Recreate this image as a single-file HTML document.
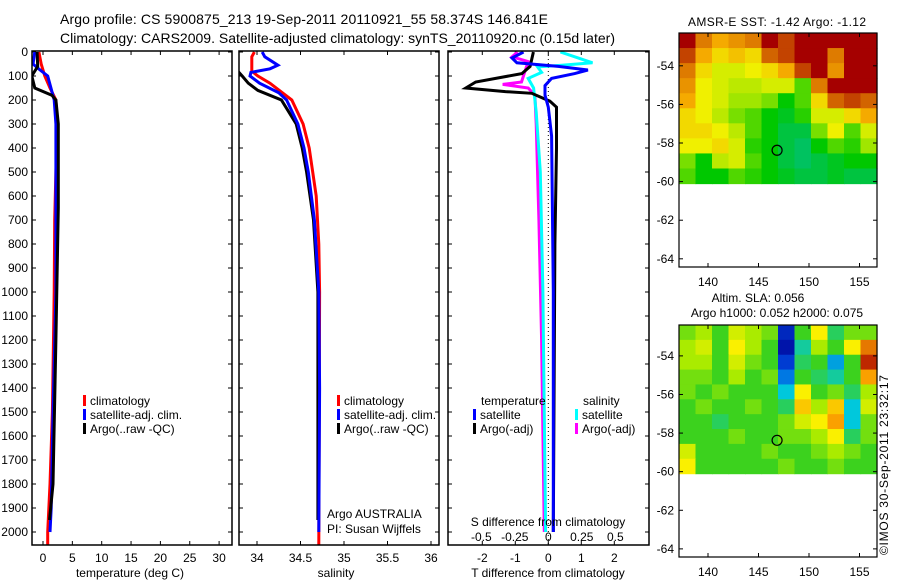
<!DOCTYPE html>
<html><head><meta charset="utf-8">
<style>
html,body{margin:0;padding:0;background:#fff;}
svg{display:block;font-family:"Liberation Sans",sans-serif;}
text{font-size:12px;fill:#000;}
</style></head>
<body>
<svg id="fig" width="900" height="580" viewBox="0 0 900 580" xmlns="http://www.w3.org/2000/svg">
<text x="60" y="24" textLength="488" style="font-size:14px">Argo profile: CS 5900875_213 19-Sep-2011 20110921_55 58.374S 146.841E</text>
<text x="60" y="43" textLength="555" style="font-size:14px">Climatology: CARS2009. Satellite-adjusted climatology: synTS_20110920.nc (0.15d later)</text>
<text x="777" y="26" text-anchor="middle" textLength="178">AMSR-E SST: -1.42 Argo: -1.12</text>
<text x="758" y="302" text-anchor="middle">Altim. SLA: 0.056</text>
<text x="777" y="317" text-anchor="middle">Argo h1000: 0.052 h2000: 0.075</text>
<text transform="translate(888,555) rotate(-90)" textLength="180">©IMOS 30-Sep-2011 23:32:17</text>
<g id="g"></g>
</svg>
<script>
// ---------- DATA ----------
const depthTicks=[0,100,200,300,400,500,600,700,800,900,1000,1100,1200,1300,1400,1500,1600,1700,1800,1900,2000];
const tempTicks=[0,5,10,15,20,25,30];
const salTicks=[34,34.5,35,35.5,36];
const salTickLabels=["34","34.5","35","35.5","36"];
const tdiffTicks=[-2,-1,0,1,2];
const sdiffTicks=[-0.5,-0.25,0,0.25,0.5];
const sdiffTickLabels=["-0.5","-0.25","0","0.25","0.5"];
const latTicks=[-54,-56,-58,-60,-62,-64];
const lonTicks=[140,145,150,155];

const tClimDepth=[0,50,100,150,200,300,700,1000,1500,1800,2000,2055];
const tClimVal=[-0.7,-0.3,0.3,1.2,2.2,2.4,2.0,1.9,1.6,1.2,0.8,0.8];
const tSatDepth=[0,50,75,100,200,300,1000,1500,1900,2000];
const tSatVal=[-1.4,-1.7,-0.5,0.8,1.9,2.2,2.2,1.7,1.4,1.2];
const tArgoDepth=[0,60,100,150,180,200,300,650,1200,1800,1950];
const tArgoVal=[-1.0,-0.9,-1.9,-1.4,1.5,2.2,2.6,2.6,2.2,1.7,1.1];

const sClimDepth=[0,20,80,100,130,200,300,400,500,600,800,1000,2055];
const sClimVal=[33.97,33.94,33.94,34.01,34.15,34.4,34.53,34.6,34.64,34.68,34.71,34.72,34.71];
const sSatDepth=[0,20,55,70,85,100,130,170,200,300,400,500,700,1000,1400,2000];
const sSatVal=[34.06,34.09,34.24,34.15,33.93,33.92,34.03,34.25,34.34,34.47,34.54,34.59,34.66,34.71,34.72,34.71];
const sArgoDepth=[0,80,100,130,160,200,300,400,500,700,1000,1500,1950];
const sArgoVal=[33.7,33.78,33.83,33.9,34.01,34.28,34.45,34.52,34.57,34.65,34.7,34.7,34.7];

const dTSatDepth=[0,25,45,60,75,90,110,140,180,230,350,1000,2000];
const dTSatVal=[-0.75,-1.1,-0.95,0.3,1.2,0.8,0.1,-0.1,-0.1,0.0,0.1,0.15,0.15];
const dTArgoDepth=[0,60,90,125,150,165,172,190,205,230,400,800,2000];
const dTArgoVal=[-0.45,-0.55,-0.8,-2.2,-2.5,-1.3,-0.5,-0.2,0.05,0.25,0.25,0.2,0.15];
const dSSatDepth=[0,30,45,55,62,85,110,150,250,500,1000,2000];
const dSSatVal=[0.09,0.25,0.33,0.1,-0.08,-0.05,-0.15,-0.11,-0.09,-0.06,-0.04,-0.02];
const dSArgoDepth=[0,20,40,90,125,135,150,180,300,700,1200,2000];
const dSArgoVal=[-0.23,-0.27,-0.15,-0.18,-0.2,-0.34,-0.15,-0.1,-0.09,-0.07,-0.05,-0.03];

const sstGrid=[
[1,0.8,0.7,0.75,0.8,1,0.9,1,1,1,1,1],
[0.9,0.7,0.6,0.65,0.6,0.85,0.9,1,1,0.8,1,1],
[0.8,0.6,0.5,0.5,0.55,0.6,0.7,0.9,1,0.75,1,1],
[0.75,0.55,0.5,0.45,0.45,0.5,0.5,0.3,0.8,1,1,1],
[0.7,0.55,0.5,0.4,0.4,0.35,0.2,0.3,0.6,0.85,0.9,0.85],
[0.6,0.55,0.45,0.35,0.3,0.2,0.15,0.25,0.5,0.5,0.6,0.7],
[0.6,0.6,0.55,0.45,0.3,0.2,0.1,0.1,0.35,0.55,0.3,0.5],
[0.55,0.55,0.6,0.5,0.25,0.2,0.1,0.05,0.2,0.3,0.25,0.4],
[0.35,0.2,0.45,0.5,0.3,0.2,0.1,0.05,0.1,0.15,0.2,0.2],
[0.3,0.2,0.2,0.3,0.25,0.2,0.15,0.1,0.1,0.15,0.1,0.1]];
const slaGrid=[
[0.55,0.6,0.5,0.65,0.6,0.55,0.1,0.5,0.7,0.45,0.55,0.55],
[0.6,0.65,0.5,0.7,0.6,0.5,0.05,0.4,0.6,0.5,0.7,0.85],
[0.6,0.6,0.5,0.65,0.55,0.5,0.15,0.45,0.5,0.3,0.5,0.95],
[0.55,0.55,0.5,0.6,0.5,0.55,0.25,0.5,0.45,0.4,0.5,0.8],
[0.55,0.5,0.55,0.5,0.5,0.5,0.35,0.7,0.5,0.55,0.45,0.6],
[0.5,0.55,0.5,0.5,0.55,0.5,0.45,0.75,0.6,0.75,0.35,0.65],
[0.5,0.5,0.45,0.5,0.5,0.5,0.55,0.65,0.7,0.8,0.35,0.55],
[0.5,0.5,0.5,0.55,0.5,0.5,0.55,0.55,0.6,0.7,0.45,0.55],
[0.65,0.5,0.5,0.5,0.5,0.55,0.5,0.5,0.55,0.6,0.55,0.5],
[0.7,0.5,0.5,0.5,0.5,0.5,0.55,0.5,0.5,0.55,0.5,0.5]];
const floatLon=146.84, floatLat=-58.374;

// ---------- HELPERS ----------
const NS="http://www.w3.org/2000/svg";
const G=document.getElementById('g');
function mk(tag,attrs,parent){const e=document.createElementNS(NS,tag);for(const k in attrs)e.setAttribute(k,attrs[k]);(parent||G).appendChild(e);return e;}
function txt(x,y,s,anchor,name){const t=mk('text',{x:x,y:y,'text-anchor':anchor||'start'});t.textContent=s;


return t;}
const TOP=51,BOT=545;
const yD=d=>52+d*0.24;
function panel(L,R,name){const r=mk('rect',{x:L,y:TOP,width:R-L,height:BOT-TOP,fill:'none',stroke:'#000','stroke-width':1.5});


}
function clip(id,L,R){const c=mk('clipPath',{id:id});mk('rect',{x:L,y:TOP,width:R-L,height:BOT-TOP},c);}
function line(depths,vals,xf,color,cid,name){let d='';depths.forEach((dp,i)=>{d+=(i?'L':'M')+xf(vals[i]).toFixed(1)+','+yD(dp).toFixed(1);});
const p=mk('path',{d:d,fill:'none',stroke:color,'stroke-width':3,'clip-path':'url(#'+cid+')'});


}
function depthAxis(L,R,labels){depthTicks.forEach(t=>{const y=yD(t);mk('line',{x1:L,x2:L+4,y1:y,y2:y,stroke:'#000'});mk('line',{x1:R,x2:R-4,y1:y,y2:y,stroke:'#000'});
if(labels){txt(L-4,y+4,String(t),'end','depth-tick-label');}});}
function xTicks(vals,labs,xf,L,R,ly){vals.forEach((v,i)=>{const x=xf(v);mk('line',{x1:x,x2:x,y1:TOP,y2:TOP+4,stroke:'#000'});mk('line',{x1:x,x2:x,y1:BOT,y2:BOT-4,stroke:'#000'});
if(ly)txt(x,ly,labs[i],'middle','x-tick-label');});}
function legendBar(x,y,color,label,name){mk('rect',{x:x,y:y-10,width:3,height:11,fill:color});txt(x+7,y,label,'start',name);}

// ---------- PANEL 1: temperature ----------
const xT=v=>43+v*5.87;
clip('c1',32,232);
depthAxis(32,232,true);
xTicks(tempTicks,tempTicks.map(String),xT,32,232,562);
line(tClimDepth,tClimVal,xT,'#f00','c1','temp-climatology-line');
line(tSatDepth,tSatVal,xT,'#00f','c1','temp-satellite-line');
line(tArgoDepth,tArgoVal,xT,'#000','c1','temp-argo-line');
panel(32,232,'temperature-panel');
txt(130,577,'temperature (deg C)','middle','temperature-axis-title');
legendBar(83,405,'#f00','climatology','legend-climatology');
legendBar(83,419,'#00f','satellite-adj. clim.','legend-satellite');
legendBar(83,433,'#000','Argo(..raw -QC)','legend-argo');

// ---------- PANEL 2: salinity ----------
const xS=v=>257+(v-34)*87;
clip('c2',239,439);
depthAxis(239,439,false);
xTicks(salTicks,salTickLabels,xS,239,439,562);
line(sClimDepth,sClimVal,xS,'#f00','c2','sal-climatology-line');
line(sArgoDepth,sArgoVal,xS,'#000','c2','sal-argo-line');
line(sSatDepth,sSatVal,xS,'#00f','c2','sal-satellite-line');
panel(239,439,'salinity-panel');
txt(336,577,'salinity','middle','salinity-axis-title');
legendBar(337,405,'#f00','climatology','legend-climatology-2');
legendBar(337,419,'#00f','satellite-adj. clim.','legend-satellite-2');
legendBar(337,433,'#000','Argo(..raw -QC)','legend-argo-2');
txt(327,518,'Argo AUSTRALIA','start','argo-australia-label');
txt(327,533,'PI: Susan Wijffels','start','pi-label');

// ---------- PANEL 3: differences ----------
const xDT=v=>548.3+v*33;
const xDS=v=>548.3+v*134;
clip('c3',448,649);
depthAxis(448,649,false);
xTicks(tdiffTicks,tdiffTicks.map(String),xDT,448,649,562);
mk('line',{x1:xDT(0),x2:xDT(0),y1:TOP,y2:BOT,stroke:'#000','stroke-dasharray':'1,3'});
line(dSArgoDepth,dSArgoVal,xDS,'#f0f','c3','sdiff-argo-line');
line(dSSatDepth,dSSatVal,xDS,'#0ff','c3','sdiff-satellite-line');
line(dTArgoDepth,dTArgoVal,xDT,'#000','c3','tdiff-argo-line');
line(dTSatDepth,dTSatVal,xDT,'#00f','c3','tdiff-satellite-line');
panel(448,649,'difference-panel');
sdiffTicks.forEach((v,i)=>{txt(xDS(v),541,sdiffTickLabels[i],'middle','sdiff-tick-label');});
txt(548,526,'S difference from climatology','middle','sdiff-axis-title');
txt(548,577,'T difference from climatology','middle','tdiff-axis-title');
txt(481,405,'temperature','start','legend-temperature-heading');
legendBar(473,419,'#00f','satellite','legend-tdiff-satellite');
legendBar(473,433,'#000','Argo(-adj)','legend-tdiff-argo');
txt(583,405,'salinity','start','legend-salinity-heading');
legendBar(575,419,'#0ff','satellite','legend-sdiff-satellite');
legendBar(575,433,'#f0f','Argo(-adj)','legend-sdiff-argo');

// ---------- MAPS ----------
const lonX=lon=>708+(lon-140)*10.1;
function lerpCol(stops,v){v=Math.max(0,Math.min(1,v));for(let i=1;i<stops.length;i++){if(v<=stops[i][0]){const a=stops[i-1],b=stops[i],f=(v-a[0])/(b[0]-a[0]);const c=[0,1,2].map(k=>Math.round(a[1][k]+(b[1][k]-a[1][k])*f));return 'rgb('+c.join(',')+')';}}return 'rgb('+stops[stops.length-1][1].join(',')+')';}
const sstStops=[[0,[0,192,128]],[0.2,[0,200,0]],[0.4,[160,230,0]],[0.55,[240,240,0]],[0.7,[245,170,0]],[0.85,[210,100,0]],[1,[165,0,0]]];
const slaStops=[[0,[0,0,150]],[0.2,[0,80,230]],[0.35,[0,200,220]],[0.5,[60,210,30]],[0.6,[170,235,0]],[0.7,[250,240,0]],[0.8,[250,160,0]],[1,[170,0,0]]];
function map(top,bot,latTop,grid,stops,name){
  const latY=lat=>top+(latTop-lat)*19.3;
  const L=679,R=877,dataBot=latY(-60.1);
  const rows=grid.length,cols=grid[0].length,cw=(R-L)/cols,ch=(dataBot-top)/rows;
  grid.forEach((row,r)=>row.forEach((v,c)=>{const cell=mk('rect',{x:(L+c*cw).toFixed(2),y:(top+r*ch).toFixed(2),width:(cw+0.6).toFixed(2),height:(ch+0.6).toFixed(2),fill:lerpCol(stops,v)});
  
  }));
  const b=mk('rect',{x:L,y:top,width:R-L,height:bot-top,fill:'none',stroke:'#000','stroke-width':1.2});
  
  
  latTicks.forEach(t=>{const y=latY(t);mk('line',{x1:L,x2:L+4,y1:y,y2:y,stroke:'#000'});mk('line',{x1:R,x2:R-4,y1:y,y2:y,stroke:'#000'});txt(L-5,y+4,String(t),'end','lat-tick-label');});
  lonTicks.forEach(t=>{const x=lonX(t);mk('line',{x1:x,x2:x,y1:bot,y2:bot-4,stroke:'#000'});mk('line',{x1:x,x2:x,y1:top,y2:top+4,stroke:'#000'});txt(x,bot+19,String(t),'middle','lon-tick-label');});
  const m=mk('circle',{cx:lonX(floatLon),cy:latY(floatLat),r:5,fill:'none',stroke:'#000','stroke-width':1.2});
  
  
}
map(33,267,-52.3,sstGrid,sstStops,'sst-map');
map(325,557,-52.4,slaGrid,slaStops,'sla-map');
</script>
</body></html>
